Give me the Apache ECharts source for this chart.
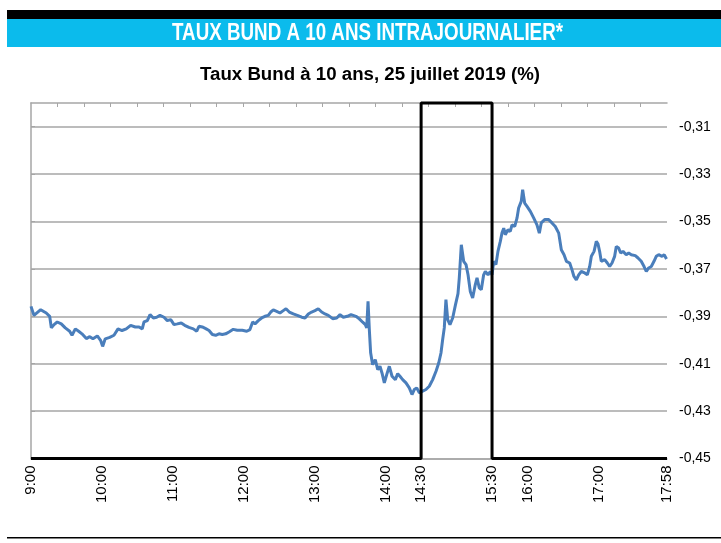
<!DOCTYPE html>
<html>
<head>
<meta charset="utf-8">
<script src="https://cdn.jsdelivr.net/npm/echarts@6/dist/echarts.min.js"></script>
<style>
  html, body { margin: 0; padding: 0; background: #fff; }
  #chart { width: 721px; height: 543px; }
</style>
</head>
<body>
<div id="chart"></div>
<script>
// minutes after 9:00 and the 10-year Bund yield (%)
const minutes = [0,2.5,8.2,12.9,15.8,17.2,19.5,22.2,25.6,29,32.7,34.7,37.5,40.3,43.1,46.8,49.7,52.4,56.1,59,60.6,62.8,66.6,70.2,73.6,77,80.6,84.3,88.2,
  91.4,94.1,95.6,98.4,100.7,103.5,106.3,109.1,112.5,115.3,118.2,121,123.8,127.1,130,133.6,137.3,140.2,142.1,144.9,147.8,150.6,153.4,156.2,159,161.8,164.7,167.5,171.1,174.5,178.7,
  182.5,185.2,187.5,189.5,192.3,195.1,197.9,200.7,202.8,205,207.8,210.6,213.4,215.7,218.5,221.9,225.3,229,231.8,234.6,237.4,240.2,243,245.9,248.7,251.5,255.2,258.6,261.4,264.2,267.6,
  270.7,274.9,277.7,280.6,282.8,284,285.1,286.2,287.3,289,291.2,293.3,295.2,296.9,298.9,300.9,303.1,305.4,308.2,310.2,312.1,314.4,317.2,320,322.3,324.2,326.3,328.5,331.3,334.1,336.9,339.8,342.6,344.9,346.8,348.2,349.6,351,352.5,354.4,356.7,
  359,361.2,362.3,364,366,368,369.7,371.6,373.6,375.8,377.3,379.2,380.9,382.9,384.3,386.6,388.5,390,391.4,393.3,395,397,398.4,399.9,401.2,403.5,405.4,406.9,409.2,411.1,412.5,414.7,415.9,417.6,419.6,422.4,425.2,428,430,431.6,434.5,437.9,440.7,443.5,446.4,
  448.6,450.9,452.9,455.7,457.6,459.3,461.3,463.3,465.5,468.4,470.6,472.6,474,476.3,478.2,479.6,481,482.4,485.3,487.5,489.5,491.5,493.7,495.1,497.1,498.8,500.8,503.5,505.6,507.8,511.2,513.5,516.2,518.6,520.5,522.5,524.7,527,528.9,531,533.8,535.6,537.6];

const taux = [-0.3858,-0.3896,-0.3872,-0.3886,-0.3900,-0.3949,-0.3935,-0.3924,-0.3932,-0.3949,-0.3963,-0.3980,-0.3953,-0.3963,-0.3974,-0.3994,-0.3986,-0.3995,-0.3983,-0.4003,-0.4027,-0.3995,-0.3989,-0.3980,-0.3953,-0.3960,-0.3953,-0.3938,-0.3945,
  -0.3945,-0.3953,-0.3924,-0.3918,-0.3893,-0.3907,-0.3904,-0.3896,-0.3904,-0.3918,-0.3914,-0.3935,-0.3932,-0.3928,-0.3938,-0.3947,-0.3953,-0.3963,-0.3942,-0.3945,-0.3952,-0.3960,-0.3977,-0.3980,-0.3974,-0.3977,-0.3974,-0.3966,-0.3955,-0.3959,-0.3959,
  -0.3963,-0.3956,-0.3924,-0.3932,-0.3918,-0.3907,-0.3900,-0.3896,-0.3882,-0.3873,-0.3879,-0.3886,-0.3876,-0.3868,-0.3882,-0.3890,-0.3896,-0.3904,-0.3907,-0.3890,-0.3882,-0.3876,-0.3868,-0.3882,-0.3890,-0.3896,-0.3910,-0.3907,-0.3893,-0.3904,-0.3900,
  -0.3893,-0.3900,-0.3911,-0.3925,-0.3935,-0.3949,-0.3837,-0.3956,-0.4054,-0.4104,-0.4083,-0.4125,-0.4111,-0.4139,-0.4181,-0.4146,-0.4111,-0.4153,-0.4167,-0.4142,-0.4153,-0.4167,-0.4181,-0.4202,-0.4230,-0.4209,-0.4202,-0.4223,-0.4216,-0.4209,-0.4195,-0.4167,-0.4132,-0.4097,-0.4055,-0.3999,-0.3949,-0.3830,-0.3914,-0.3935,-0.3907,
  -0.3853,-0.3804,-0.3738,-0.3598,-0.3668,-0.3682,-0.3725,-0.3795,-0.3823,-0.3767,-0.3738,-0.3780,-0.3788,-0.3725,-0.3711,-0.3725,-0.3711,-0.3725,-0.3668,-0.3682,-0.3626,-0.3584,-0.3549,-0.3528,-0.3556,-0.3535,-0.3542,-0.3514,-0.3521,-0.3486,-0.3443,-0.3415,-0.3366,-0.3422,-0.3436,-0.3457,-0.3485,-0.3514,-0.3549,-0.3506,-0.3492,-0.3492,-0.3506,-0.3521,-0.3549,
  -0.3619,-0.3640,-0.3668,-0.3675,-0.3703,-0.3732,-0.3746,-0.3725,-0.3711,-0.3717,-0.3725,-0.3690,-0.3647,-0.3626,-0.3584,-0.3594,-0.3626,-0.3668,-0.3661,-0.3675,-0.3690,-0.3675,-0.3647,-0.3605,-0.3612,-0.3633,-0.3626,-0.3640,-0.3633,-0.3640,-0.3644,-0.3654,-0.3668,-0.3690,-0.3711,-0.3696,-0.3690,-0.3668,-0.3647,-0.3640,-0.3647,-0.3640,-0.3658];

// black frame around 14:30 - 15:30
const boxMinutes = [0, 330, 330, 390, 390, 538];
const boxValues = [-0.45, -0.45, -0.30, -0.30, -0.45, -0.45];

// x axis labels
const tickMinutes = [0, 60, 120, 180, 240, 300, 330, 390, 420, 480, 538];
const tickLabels = ['9:00', '10:00', '11:00', '12:00', '13:00', '14:00', '14:30', '15:30', '16:00', '17:00', '17:58'];

// small ticks hanging from the top frame line (24 steps)
const topTicks = Array.from({ length: 23 }, (_, i) => (i + 1) * 538 / 24);

// y axis labels
const yTicks = [-0.45, -0.43, -0.41, -0.39, -0.37, -0.35, -0.33, -0.31];

const banner = 'TAUX BUND A 10 ANS INTRAJOURNALIER*';
const subtitle = 'Taux Bund à 10 ans, 25 juillet 2019 (%)';

const font = '"Liberation Sans", Arial, sans-serif';
const bannerFont = 'bold 23px "Liberation Sans", Arial, sans-serif';
const subFont = 'bold 18px "Liberation Sans", Arial, sans-serif';

// squeeze the texts to the width they take in the original (narrow font there)
const ctx = document.createElement('canvas').getContext('2d');
const fitScale = (txt, f, w) => { ctx.font = f; return w / ctx.measureText(txt).width; };

const chart = echarts.init(document.getElementById('chart'), null, { renderer: 'canvas' });

chart.setOption({
  animation: false,
  backgroundColor: '#fff',
  textStyle: { fontFamily: font },
  graphic: [
    { type: 'rect', shape: { x: 7, y: 10, width: 714, height: 9 }, style: { fill: '#000' } },
    { type: 'rect', shape: { x: 7, y: 19, width: 714, height: 28 }, style: { fill: '#0bbbec' } },
    { type: 'rect', shape: { x: 7, y: 537, width: 714, height: 1.5 }, style: { fill: '#000' } },
    {
      type: 'text', x: 367.5, y: 33.5, scaleX: fitScale(banner, bannerFont, 391),
      style: { text: banner, font: bannerFont, fill: '#fff', align: 'center', verticalAlign: 'middle' }
    },
    {
      type: 'text', x: 370, y: 75, scaleX: fitScale(subtitle, subFont, 340),
      style: { text: subtitle, font: subFont, fill: '#000', align: 'center', verticalAlign: 'middle' }
    }
  ],
  grid: { left: 31, right: 54, top: 103, bottom: 84.5 },
  xAxis: [
    {
      type: 'value', min: 0, max: 538, position: 'bottom',
      axisLine: { lineStyle: { color: '#a6a6a6', width: 1.5 } },
      axisTick: { show: false },
      splitLine: { show: false },
      axisLabel: {
        customValues: tickMinutes,
        rotate: 90, margin: 7,
        color: '#000', fontSize: 15, fontFamily: font,
        formatter: v => tickLabels[tickMinutes.indexOf(v)]
      }
    },
    {
      type: 'value', min: 0, max: 538, position: 'top',
      axisLine: { lineStyle: { color: '#a6a6a6', width: 1.5 } },
      axisTick: { customValues: topTicks, inside: true, length: 4, lineStyle: { color: '#a6a6a6' } },
      axisLabel: { show: false },
      splitLine: { show: false }
    }
  ],
  yAxis: {
    type: 'value', position: 'right', min: -0.45, max: -0.30,
    axisLine: { show: true, lineStyle: { color: '#a6a6a6', width: 1.5 } },
    axisTick: { show: true, customValues: yTicks, length: 4, lineStyle: { color: '#a6a6a6' } },
    splitLine: { show: true, lineStyle: { color: '#a6a6a6', width: 1.5 } },
    axisLabel: {
      customValues: yTicks,
      margin: 12, color: '#000', fontSize: 14, fontFamily: font,
      formatter: v => v.toFixed(2).replace('.', ',')
    }
  },
  series: [
    {
      type: 'line',
      data: minutes.map((m, i) => [m, taux[i]]),
      showSymbol: false,
      lineStyle: { color: '#4a7ebb', width: 3 },
      z: 2
    },
    {
      type: 'line',
      data: boxMinutes.map((m, i) => [m, boxValues[i]]),
      showSymbol: false,
      clip: false,
      lineStyle: { color: '#000', width: 3 },
      z: 3
    }
  ]
});
</script>
</body>
</html>
